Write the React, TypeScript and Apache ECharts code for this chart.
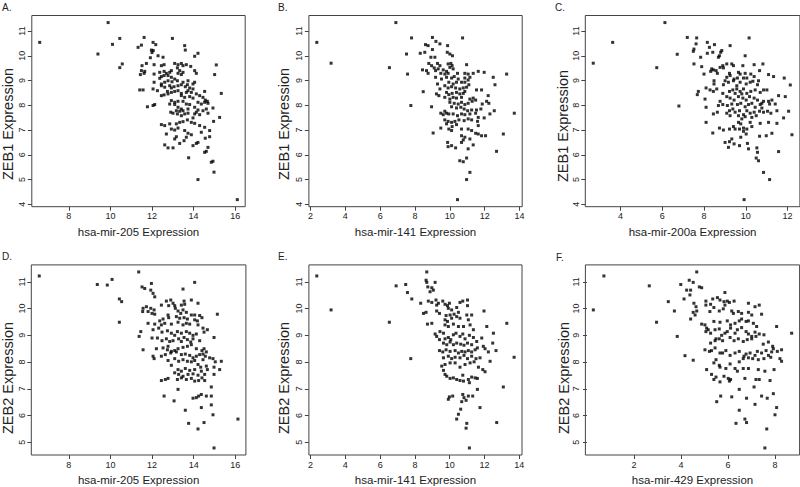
import React, { useEffect, useRef } from "react";
import * as echarts from "echarts";

// ZEB1 vs hsa-mir-205 (panel A)
const zeb1_mir205: number[][] = [
  [6.6,10.54],[9.4,10.07],[9.89,11.34],[10.1,10.46],[10.45,10.7],[10.45,9.52],[10.57,9.67],
  [11.62,10.74],[12.98,10.70],[12.05,10.54],[12.18,10.45],[11.49,10.43],[11.33,10.34],[13.57,10.41],[13.60,10.23],[11.97,10.23],[12.06,10.21],[12.0,10.13],[14.21,10.10],[12.29,10.0],[11.92,9.92],[12.53,9.94],[14.05,9.98],
  [11.73,9.69],[11.52,9.60],[12.10,9.64],[12.45,9.60],[12.58,9.64],[13.09,9.69],[13.25,9.64],[13.41,9.69],[13.49,9.60],[13.65,9.64],[13.86,9.57],[15.09,9.63],
  [11.49,9.40],[11.65,9.37],[11.44,9.24],[11.62,9.29],[12.10,9.26],[12.37,9.33],[12.58,9.37],[12.69,9.29],[12.85,9.33],[12.93,9.40],[12.77,9.20],[12.58,9.20],[13.22,9.51],[13.33,9.40],[13.49,9.33],[13.25,9.29],[13.41,9.24],[14.05,9.40],[14.13,9.29],[15.01,9.24],[12.37,9.09],[12.45,9.16],[12.93,9.13],
  [12.10,8.93],[12.45,8.86],[12.61,8.93],[12.77,8.99],[12.96,8.95],[13.09,9.06],[13.22,8.99],[13.49,8.93],[13.73,8.99],[14.05,8.93],[13.97,8.86],
  [12.45,8.79],[12.61,8.73],[12.85,8.79],[12.93,8.70],[13.06,8.75],[13.25,8.79],[13.41,8.83],[13.60,8.75],[13.70,8.83],[13.81,8.70],[13.97,8.66],
  [11.41,8.62],[11.57,8.62],[12.05,8.66],[12.26,8.59],[13.25,8.59],[13.41,8.48],[13.65,8.52],[13.73,8.59],[13.89,8.52],[12.74,8.56],[12.93,8.52],[13.09,8.56],[12.45,8.39],[12.77,8.46],[12.58,8.42],[14.53,8.56],[15.33,8.48],
  [13.41,8.39],[13.57,8.32],[13.81,8.35],[13.97,8.29],[14.13,8.46],[14.29,8.39],[14.45,8.32],[14.56,8.21],[14.66,8.16],
  [12.93,8.19],[13.09,8.12],[13.25,8.16],[13.49,8.16],[12.85,8.05],[13.09,8.03],[13.65,8.05],[13.81,8.03],[14.21,8.12],[14.37,8.05],[14.53,8.12],[14.69,8.08],
  [11.78,7.94],[12.05,7.99],[12.13,8.03],[13.25,7.92],[13.41,7.85],[13.17,7.78],[13.33,7.76],[13.49,7.78],[13.73,7.85],[14.05,7.92],[14.21,7.81],[14.45,7.78],[14.61,7.85],[14.93,7.89],
  [12.90,7.72],[13.01,7.68],[13.22,7.65],[13.41,7.58],[13.57,7.65],[13.73,7.68],[14.05,7.65],[14.13,7.72],[14.29,7.62],[14.69,7.68],[15.25,7.51],[14.96,7.35],[13.97,7.49],[13.70,7.41],[13.49,7.34],[13.33,7.31],[13.89,7.31],
  [12.45,7.22],[12.61,7.18],[12.85,7.25],[13.17,7.25],[14.05,7.27],[14.29,7.18],[14.53,7.11],[12.93,7.04],[13.09,7.0],[13.25,7.08],[13.57,6.98],[14.37,6.91],[14.77,6.98],
  [12.69,6.84],[13.73,6.87],[13.89,6.81],[13.17,6.73],[13.65,6.71],[14.77,6.73],[14.56,6.67],[13.09,6.64],[13.54,6.57],[13.33,6.46],[14.21,6.50],[14.13,6.46],[13.97,6.37],[12.61,6.40],[12.77,6.28],[13.01,6.28],[14.69,6.30],[14.61,6.14],[14.53,6.10],
  [13.76,5.88],[14.93,5.74],[14.85,5.70],[14.98,5.30],[14.21,5.0],[16.10,4.19]
];

// ZEB1 vs hsa-mir-141 (panel B)
const zeb1_mir141: number[][] = [
  [2.36,10.54],[3.18,9.70],[6.53,9.52],[6.90,11.34],
  [7.80,10.72],[9.0,10.74],[10.73,10.72],[9.20,10.58],[9.43,10.48],[8.60,10.45],[8.75,10.41],[9.87,10.41],[9.0,10.25],[8.30,10.10],[8.56,10.14],[9.85,10.14],[10.0,10.07],[10.15,10.0],[8.91,9.94],[9.14,9.94],[7.51,10.07],
  [8.79,9.69],[8.95,9.60],[9.29,9.69],[9.43,9.60],[9.90,9.67],[10.06,9.69],[10.13,9.60],[10.0,9.53],[10.19,9.47],[10.96,9.64],[9.10,9.51],[8.43,9.43],[8.66,9.40],[8.75,9.29],[9.18,9.40],[9.33,9.47],[9.62,9.43],[9.81,9.37],[9.90,9.29],[9.71,9.26],[9.48,9.29],[10.44,9.29],[10.86,9.29],[11.05,9.26],[11.34,9.29],[11.63,9.37],[11.97,9.33],[12.49,9.13],[13.26,9.26],[7.57,9.26],
  [9.18,9.13],[9.52,9.06],[9.81,9.13],[10.10,9.10],[10.25,9.16],[10.48,9.06],[10.86,9.10],[11.05,9.02],[11.15,9.13],[12.59,8.83],
  [9.94,8.93],[10.19,8.86],[10.38,8.93],[10.67,8.93],[10.86,8.93],[11.09,8.83],[9.29,8.86],[9.43,8.66],[9.71,8.79],[9.90,8.70],[10.10,8.75],[10.33,8.70],[10.57,8.66],[10.77,8.70],[10.96,8.73],[11.53,8.62],[11.82,8.62],[8.47,8.55],[9.23,8.46],[9.37,8.39],
  [9.81,8.52],[9.94,8.43],[10.13,8.48],[10.38,8.52],[10.57,8.46],[10.77,8.48],[10.86,8.56],[12.20,8.39],[9.71,8.32],[10.0,8.25],[10.19,8.32],[10.38,8.29],[10.67,8.32],[11.15,8.25],[11.34,8.29],[11.48,8.21],[8.95,7.94],[7.76,7.99],[12.11,8.16],[10.0,8.12],[10.25,8.08],[10.48,8.05],[10.67,8.12],[10.86,8.03],[11.05,8.08],[11.28,8.16],[11.86,8.05],[12.24,8.08],
  [10.10,7.94],[10.38,7.89],[10.63,7.92],[10.82,7.85],[11.02,7.78],[11.25,7.81],[11.53,7.81],[11.78,7.85],[12.55,7.78],[9.71,7.76],
  [9.48,7.68],[9.62,7.62],[9.81,7.68],[9.94,7.65],[10.19,7.65],[10.44,7.58],[10.67,7.65],[10.86,7.62],[11.15,7.65],[11.48,7.68],[11.63,7.51],[11.97,7.49],[12.30,7.65],[13.70,7.68],
  [9.71,7.41],[9.90,7.35],[10.10,7.31],[10.29,7.35],[10.52,7.41],[10.82,7.38],[11.05,7.45],[11.25,7.41],[11.59,7.35],[9.81,7.25],[10.13,7.14],[10.38,7.22],[11.63,7.18],
  [9.48,7.08],[9.94,7.04],[10.10,6.98],[10.67,7.04],[11.05,7.04],[11.25,6.98],[11.48,6.87],[11.63,6.84],[9.04,6.88],[11.82,6.77],[12.05,6.77],[13.07,6.84],[10.67,6.77],[10.86,6.71],[10.77,6.60],[11.15,6.64],
  [9.87,6.50],[10.10,6.37],[9.90,6.33],[10.33,6.28],[10.67,6.50],[11.34,6.40],[11.05,6.24],[12.68,6.14],
  [10.57,5.76],[10.77,5.72],[10.96,5.87],[11.15,5.29],[10.96,5.0],[10.44,4.19]
];

// ZEB1 vs hsa-mir-200a (panel C)
const zeb1_mir200a: number[][] = [
  [2.70,9.70],[3.63,10.54],[5.74,9.52],[6.13,11.34],[6.72,10.06],[6.80,7.97],
  [7.20,10.74],[7.65,10.72],[7.62,10.48],[8.16,10.54],[7.52,10.27],[8.50,10.45],[8.26,10.34],[10.16,10.72],[9.25,10.41],[7.49,10.18],[8.42,10.14],[8.16,10.10],[8.85,10.21],[8.80,10.14],[8.74,10.0],[8.69,9.94],[9.97,10.0],[7.84,9.94],
  [7.52,9.67],[8.90,9.60],[9.09,9.67],[9.33,9.67],[9.41,9.60],[8.93,9.51],[8.77,9.53],[8.58,9.40],[8.45,9.43],[8.37,9.47],[8.64,9.29],[8.32,9.37],[7.89,9.56],[9.86,9.60],[10.40,9.64],[10.82,9.67],[9.65,9.33],[9.73,9.26],[9.97,9.29],[10.24,9.26],[10.40,9.16],[10.66,9.40],[11.09,9.24],[11.33,9.16],[11.84,9.10],[8.0,9.26],[9.22,9.29],[9.25,9.20],[9.09,9.13],[9.44,9.06],[9.60,9.10],[9.89,9.10],[10.05,9.10],
  [8.48,8.99],[8.48,8.86],[9.01,8.99],[8.93,8.83],[9.17,8.93],[9.41,8.99],[9.57,8.79],[9.73,8.93],[10.02,8.86],[10.21,8.93],[10.34,8.97],[10.61,8.99],[10.56,8.83],[12.13,8.82],
  [8.10,8.70],[8.29,8.62],[8.45,8.56],[8.61,8.66],[7.73,8.56],[7.68,8.43],[8.90,8.48],[9.22,8.56],[9.38,8.62],[9.57,8.66],[9.49,8.48],[9.73,8.56],[9.89,8.66],[9.81,8.46],[10.05,8.48],[10.24,8.56],[10.45,8.62],[10.69,8.52],[10.85,8.62],[11.01,8.62],
  [8.05,8.25],[8.77,8.16],[9.09,8.35],[9.25,8.29],[9.44,8.21],[9.65,8.35],[9.86,8.29],[10.02,8.21],[10.18,8.35],[10.40,8.29],[10.56,8.21],[10.77,8.08],[10.85,8.16],[11.09,8.16],[11.25,8.21],[11.57,8.39],[11.89,8.35],
  [8.10,7.92],[8.69,7.99],[8.90,8.03],[9.12,7.99],[9.33,8.05],[9.60,8.03],[9.76,8.08],[9.97,7.94],[10.13,8.03],[10.29,8.08],[10.45,7.92],[10.69,8.03],[11.14,8.05],[11.41,8.05],[10.77,7.89],
  [8.45,7.65],[8.64,7.72],[9.09,7.68],[9.22,7.78],[9.38,7.85],[9.49,7.72],[9.70,7.78],[9.89,7.62],[10.05,7.78],[10.21,7.68],[10.40,7.72],[10.66,7.76],[10.85,7.72],[11.04,7.76],[11.20,7.68],[11.49,7.78],[12.05,7.76],[9.25,7.58],[9.65,7.58],[9.81,7.45],[9.97,7.54],[10.29,7.51],[10.50,7.58],[11.81,7.49],
  [8.10,7.31],[9.65,7.31],[9.76,7.25],[10.21,7.31],[10.69,7.27],[11.09,7.31],[11.49,7.27],[8.74,7.08],[8.93,7.0],[9.22,7.04],[9.41,7.14],[9.49,7.04],[9.70,7.04],[9.89,7.08],[10.05,7.04],[10.29,7.14],[9.89,6.95],[8.42,6.88],[10.02,6.84],[11.25,6.87],[12.21,6.81],[10.98,6.77],[10.66,6.75],
  [9.33,6.64],[9.76,6.71],[9.22,6.53],[9.01,6.50],[9.44,6.44],[10.08,6.46],[9.17,6.30],[9.70,6.37],[10.13,6.24],[10.53,6.28],[10.56,6.10],[11.57,6.13],[10.50,5.87],[10.61,5.76],[10.85,5.29],[11.14,5.0],[9.92,4.19]
];

// ZEB2 vs hsa-mir-205 (panel D)
const zeb2_mir205: number[][] = [
  [6.58,11.22],[9.37,10.90],[9.85,10.88],[10.08,11.09],[10.43,10.36],[10.54,10.26],[10.43,9.49],
  [11.36,11.37],[11.52,10.81],[11.65,10.75],[11.97,10.94],[11.94,10.69],[12.05,10.57],[12.13,10.44],[13.49,10.73],[14.05,10.98],
  [12.69,10.28],[12.90,10.32],[13.01,10.20],[13.54,10.28],[13.89,10.32],[14.21,10.20],[12.45,10.13],[12.80,10.11],[13.09,10.11],[13.41,10.13],[13.57,10.16],
  [11.73,10.07],[11.57,10.01],[11.55,9.89],[11.94,10.01],[12.10,9.95],[11.81,9.89],[12.0,9.82],[12.13,9.79],[13.12,10.01],[13.25,9.91],[13.38,9.82],[13.49,9.95],[13.65,9.86],[13.89,9.76],[14.05,9.76],[14.29,9.74],[15.14,9.79],
  [12.77,9.76],[12.53,9.61],[12.37,9.54],[12.80,9.66],[13.17,9.70],[13.33,9.64],[13.54,9.66],[13.70,9.61],[14.05,9.58],[14.18,9.54],[14.40,9.66],
  [11.81,9.45],[12.13,9.42],[12.45,9.39],[12.61,9.45],[12.93,9.42],[13.25,9.49],[13.49,9.39],[13.65,9.45],[13.81,9.42],[14.21,9.39],[14.66,9.21],[14.45,9.27],
  [11.46,9.14],[11.38,8.96],[12.05,9.21],[12.32,9.27],[12.48,9.12],[12.74,9.17],[12.93,9.08],[13.22,9.14],[13.09,9.0],[13.41,9.08],[13.65,9.14],[13.81,9.08],[13.97,9.0],[14.13,9.05],[14.50,9.12],[14.98,8.92],
  [12.0,8.90],[12.26,8.90],[12.48,8.80],[12.69,8.87],[12.85,8.77],[13.01,8.80],[13.28,8.87],[13.41,8.77],[13.54,8.92],[13.70,8.84],[13.86,8.75],[13.97,8.87],[14.29,8.80],
  [11.57,8.46],[12.77,8.59],[12.21,8.50],[12.53,8.53],[12.74,8.46],[12.93,8.40],[13.09,8.43],[13.25,8.50],[13.49,8.55],[13.70,8.59],[13.89,8.65],[14.13,8.50],[14.40,8.43],[14.61,8.38],[14.50,8.50],[14.45,8.30],
  [12.05,8.22],[12.10,8.13],[12.45,8.22],[12.64,8.28],[12.90,8.34],[13.17,8.38],[13.41,8.28],[13.60,8.30],[13.81,8.25],[13.97,8.16],[14.13,8.22],[14.29,8.28],[14.56,8.22],[14.77,8.16],[14.93,8.13],
  [12.77,8.06],[13.09,8.13],[13.28,8.03],[13.49,8.09],[13.70,8.03],[13.89,8.01],[14.05,8.06],[14.21,7.91],[14.45,8.09],[15.04,8.01],[15.33,8.03],[14.34,7.81],[14.61,7.85],[12.93,7.88],[14.98,7.81],[15.25,7.72],
  [13.25,7.72],[13.41,7.66],[13.60,7.76],[13.81,7.69],[14.05,7.72],[14.37,7.66],[14.66,7.72],[13.09,7.60],[13.28,7.54],[13.49,7.47],[13.73,7.54],[13.97,7.56],[14.21,7.51],[14.53,7.54],[14.98,7.54],
  [12.45,7.31],[12.64,7.35],[12.77,7.39],[13.22,7.35],[13.41,7.41],[13.65,7.35],[13.89,7.39],[14.05,7.29],[14.24,7.31],[14.40,7.41],[14.53,7.31],
  [13.25,6.98],[14.85,7.07],[12.58,6.73],[13.06,6.55],[13.97,6.65],[14.13,6.67],[14.24,6.73],[14.37,6.79],[14.61,6.73],[14.85,6.73],
  [13.60,6.20],[14.37,6.30],[14.85,6.40],[14.93,6.03],[16.13,5.87],[13.76,5.71],[14.50,5.74],[14.21,5.50],[14.98,4.79]
];

// ZEB2 vs hsa-mir-141 (panel E)
const zeb2_mir141: number[][] = [
  [2.36,11.22],[3.18,9.95],[6.53,9.49],
  [6.92,10.85],[7.47,10.90],[7.57,10.60],[7.82,10.36],[7.76,8.13],[8.68,11.37],[8.64,11.06],[8.68,10.98],[8.74,10.81],[8.97,10.78],[9.06,10.69],[9.16,10.98],[8.87,10.63],
  [8.33,10.20],[8.49,9.82],[8.64,9.86],[8.72,9.42],[8.97,9.45],[8.77,10.28],[8.97,10.23],[9.21,10.32],[9.25,10.13],[9.35,10.20],[9.25,9.91],[9.41,9.82],[9.60,10.28],[9.73,10.16],[9.87,10.11],[9.98,10.20],[9.92,10.01],[10.11,9.95],[10.40,10.04],[10.75,10.28],[11.02,10.32],[10.59,10.23],[11.02,10.11],
  [10.25,9.79],[10.50,9.86],[10.02,9.76],[9.79,9.74],[9.73,9.58],[9.87,9.52],[10.11,9.64],[10.40,9.70],[10.59,9.64],[10.98,9.76],[11.26,9.76],[11.07,9.58],[11.97,9.91],[13.28,9.45],
  [9.73,9.39],[9.92,9.33],[10.21,9.42],[10.50,9.33],[10.79,9.33],[11.17,9.39],[11.36,9.21],[12.13,9.33],[12.51,9.08],
  [9.16,9.05],[9.25,8.96],[9.44,9.14],[9.64,9.08],[9.41,8.84],[9.73,8.87],[9.92,8.92],[10.06,8.84],[10.21,9.02],[10.36,9.08],[10.59,8.96],[10.75,9.05],[10.88,8.87],[11.13,9.0],[11.36,8.92],[11.84,8.90],[12.47,8.71],
  [9.64,8.71],[9.83,8.65],[10.02,8.75],[10.21,8.65],[10.40,8.71],[10.63,8.67],[10.82,8.63],[11.02,8.71],[11.26,8.65],[11.55,8.77],[11.93,8.59],
  [9.41,8.43],[9.60,8.38],[9.79,8.46],[10.02,8.40],[10.31,8.43],[10.50,8.34],[10.69,8.40],[10.88,8.38],[11.07,8.43],[11.26,8.38],[11.46,8.46],[11.59,8.53],[12.03,8.50],[12.22,8.38],[12.32,8.03],[12.66,8.43],[13.70,8.18],
  [9.64,8.16],[9.92,8.22],[10.11,8.13],[10.31,8.18],[10.59,8.16],[10.82,8.25],[11.02,8.13],[11.26,8.22],[11.51,8.13],[11.74,8.16],
  [9.54,7.85],[9.73,7.91],[10.02,7.97],[10.31,7.97],[10.59,7.81],[10.88,7.91],[11.17,7.97],[11.40,8.01],[11.65,7.81],[11.90,7.72],[12.03,7.64],
  [9.64,7.69],[9.73,7.54],[9.83,7.47],[10.02,7.39],[10.21,7.41],[10.40,7.35],[10.59,7.31],[10.79,7.29],[11.07,7.35],[11.26,7.44],[11.46,7.41],[11.59,7.39],[11.13,7.23],[10.75,7.51],
  [11.59,6.98],[13.08,7.07],[9.98,6.70],[9.92,6.61],[10.17,6.73],[10.75,6.79],[10.82,6.67],[11.07,6.73],[11.32,6.73],[10.69,6.52],[10.94,6.57],
  [11.74,6.30],[10.63,6.24],[10.50,6.05],[10.40,5.87],[12.70,5.74],[10.98,5.71],[10.94,5.53],[11.13,4.79]
];

// ZEB2 vs hsa-mir-429 (panel F)
const zeb2_mir429: number[][] = [
  [0.27,9.95],[0.72,11.22],
  [2.65,10.85],[2.96,9.49],[3.84,8.96],[4.17,8.24],[4.52,8.07],[3.46,10.26],[3.72,9.91],
  [4.67,11.37],[4.35,11.06],[4.52,10.98],[3.99,10.90],[4.13,10.36],[4.24,10.69],[4.41,10.69],[4.38,10.51],[4.78,10.81],[4.88,10.78],[4.55,10.20],[4.64,10.07],[4.52,9.86],[4.60,9.76],[4.41,9.61],[4.67,9.91],
  [5.87,10.60],[5.06,10.28],[5.35,10.36],[5.55,10.41],[5.66,10.32],[5.83,10.26],[5.97,10.28],[6.06,10.23],[6.26,10.28],[6.87,10.20],[7.15,10.07],[7.33,10.13],[5.87,10.13],[5.06,10.13],[5.26,10.16],[5.40,10.04],
  [5.63,9.91],[5.80,9.99],[6.16,9.91],[6.23,9.82],[6.44,9.89],[6.58,9.82],[6.87,9.86],[7.01,9.76],[7.43,9.79],[5.23,9.89],
  [4.88,9.42],[5.02,9.39],[5.09,9.27],[5.16,9.21],[5.26,9.08],[5.06,9.14],[5.40,9.52],[5.66,9.49],[5.97,9.54],[6.11,9.39],[6.30,9.45],[6.48,9.54],[6.58,9.61],[6.77,9.52],[6.87,9.54],[7.08,9.45],[7.22,9.33],[8.07,9.33],[8.71,9.08],
  [5.45,9.21],[5.63,9.24],[5.49,8.87],[5.73,9.0],[5.87,9.08],[5.97,9.14],[6.11,9.27],[6.30,9.08],[6.40,9.21],[6.58,9.29],[6.77,9.14],[6.87,9.05],[7.01,8.96],[7.15,9.12],[7.33,9.05],[7.53,9.02],
  [5.26,8.71],[5.45,8.80],[5.63,8.87],[5.77,8.80],[6.09,8.92],[6.26,8.80],[6.44,8.87],[6.65,8.77],[6.82,8.84],[7.01,8.87],[7.19,8.96],[7.50,8.67],[7.72,8.75],[7.90,8.59],
  [5.02,8.46],[5.21,8.40],[5.30,8.43],[5.45,8.53],[5.66,8.34],[5.77,8.34],[5.91,8.43],[6.09,8.25],[6.30,8.34],[6.48,8.40],[6.68,8.22],[6.77,8.30],[6.94,8.34],[7.15,8.25],[7.25,8.40],[7.43,8.34],[7.62,8.43],[7.86,8.38],[7.93,8.50],[8.10,8.40],[8.28,8.46],[7.72,8.25],
  [5.49,8.09],[5.40,7.97],[5.63,7.88],[5.66,7.81],[5.91,7.76],[6.09,7.93],[6.30,7.76],[6.48,8.01],[6.65,8.13],[6.87,8.16],[7.05,8.13],[7.29,8.09],[7.53,8.13],[7.82,8.18],[8.21,8.13],[8.28,8.03],
  [5.09,7.72],[5.30,7.54],[5.49,7.44],[5.83,7.47],[6.01,7.39],[6.11,7.35],[6.40,7.66],[6.65,7.76],[6.87,7.76],[7.29,7.72],[7.57,7.66],[7.96,7.72],[5.40,7.35],[5.66,7.26],[6.06,7.29],[6.72,7.39],[7.19,7.35],[7.33,7.35],[7.79,7.31],
  [6.48,6.98],[7.11,7.07],[7.93,6.82],[5.69,6.73],[6.16,6.70],[6.79,6.65],[7.43,6.73],[7.67,6.65],[5.52,6.52],[7.15,6.42],[8.07,6.30],[8.0,6.03],[6.48,6.20],
  [6.34,5.71],[6.79,5.74],[6.72,5.87],[7.65,5.50],[7.57,4.79]
];

const ticksMir205 = [8, 10, 12, 14, 16];
const ticksMir141 = [2, 4, 6, 8, 10, 12, 14];
const ticksMir200a = [4, 6, 8, 10, 12];
const ticksMir429 = [2, 4, 6, 8];
const ticksZeb1 = [4, 5, 6, 7, 8, 9, 10, 11];
const ticksZeb2 = [5, 6, 7, 8, 9, 10, 11];

const panelLetters = ["A.", "B.", "C.", "D.", "E.", "F."];
const xTitles = [
  "hsa-mir-205 Expression",
  "hsa-mir-141 Expression",
  "hsa-mir-200a Expression",
  "hsa-mir-205 Expression",
  "hsa-mir-141 Expression",
  "hsa-mir-429 Expression",
];
const yTitles = [
  "ZEB1 Expression",
  "ZEB1 Expression",
  "ZEB1 Expression",
  "ZEB2 Expression",
  "ZEB2 Expression",
  "ZEB2 Expression",
];

const panelData = [zeb1_mir205, zeb1_mir141, zeb1_mir200a, zeb2_mir205, zeb2_mir141, zeb2_mir429];
const panelXTicks = [ticksMir205, ticksMir141, ticksMir200a, ticksMir205, ticksMir141, ticksMir429];
const panelYTicks = [ticksZeb1, ticksZeb1, ticksZeb1, ticksZeb2, ticksZeb2, ticksZeb2];

// layout (pixels)
const boxes = [
  { left: 31.8, top: 15.5, width: 213.4, height: 191.2 },
  { left: 308.9, top: 15.5, width: 213.3, height: 191.2 },
  { left: 585.3, top: 15.5, width: 214.6, height: 191.2 },
  { left: 31.3, top: 264.9, width: 214.6, height: 191.0 },
  { left: 308.9, top: 264.9, width: 213.1, height: 191.0 },
  { left: 585.4, top: 264.9, width: 214.2, height: 191.0 },
];
const letterPos = [
  [2, 2], [278, 2], [555, 2], [2, 251], [278, 251], [556, 252],
];
// centres of the rotated y-axis titles
const yTitlePos = [
  [7.5, 124], [284, 124], [562.5, 126], [7.5, 378], [284, 378], [563.5, 378],
];

const FONT = "'Liberation Sans', Arial, Helvetica, sans-serif";
const TEXT = "#222";
const LINE = "#444";

// R's default axis extension: 4% on each side
function rRange(vals: number[]): [number, number] {
  const mn = Math.min(...vals);
  const mx = Math.max(...vals);
  const d = (mx - mn) * 0.04;
  return [mn - d, mx + d];
}

export default function App() {
  const ref = useRef<HTMLDivElement>(null);
  useEffect(() => {
    document.body.style.margin = "0";
    if (!ref.current) return;
    const chart = echarts.init(ref.current, null, { renderer: "svg" });

    const grid = boxes.map((b) => ({
      ...b,
      show: true,
      borderColor: LINE,
      borderWidth: 1,
      backgroundColor: "transparent",
      containLabel: false,
    }));

    const xAxis = panelData.map((d, i) => {
      const [mn, mx] = rRange(d.map((p) => p[0]));
      return {
        type: "value",
        gridIndex: i,
        min: mn,
        max: mx,
        axisLine: { show: false },
        splitLine: { show: false },
        axisTick: {
          show: true,
          length: 4,
          lineStyle: { color: LINE, width: 1 },
          customValues: panelXTicks[i],
        },
        axisLabel: {
          customValues: panelXTicks[i],
          fontSize: 9,
          color: TEXT,
          margin: 5,
          fontFamily: FONT,
        },
        name: xTitles[i],
        nameLocation: "middle",
        nameGap: 19,
        nameTextStyle: { fontSize: 11.5, color: TEXT, fontFamily: FONT },
      };
    });

    const yAxis = panelData.map((d, i) => {
      const [mn, mx] = rRange(d.map((p) => p[1]));
      return {
        type: "value",
        gridIndex: i,
        min: mn,
        max: mx,
        axisLine: { show: false },
        splitLine: { show: false },
        axisTick: {
          show: true,
          length: 4,
          lineStyle: { color: LINE, width: 1 },
          customValues: panelYTicks[i],
        },
        axisLabel: {
          customValues: panelYTicks[i],
          rotate: 90,
          fontSize: 9,
          color: TEXT,
          margin: 5,
          fontFamily: FONT,
        },
      };
    });

    const series = panelData.map((d, i) => ({
      type: "scatter",
      xAxisIndex: i,
      yAxisIndex: i,
      data: d,
      symbol: "rect",
      symbolSize: 3,
      itemStyle: { color: "#000" },
      silent: true,
    }));

    const letters = panelLetters.map((t, i) => ({
      type: "text",
      left: letterPos[i][0],
      top: letterPos[i][1],
      style: { text: t, fontSize: 10, fill: TEXT, fontFamily: FONT },
    }));

    const yTitleTexts = yTitles.map((t, i) => ({
      type: "text",
      x: yTitlePos[i][0],
      y: yTitlePos[i][1],
      rotation: Math.PI / 2,
      style: {
        text: t,
        fontSize: 14.5,
        fill: TEXT,
        fontFamily: FONT,
        align: "center",
        verticalAlign: "middle",
      },
    }));

    chart.setOption({
      animation: false,
      backgroundColor: "#fff",
      grid,
      xAxis,
      yAxis,
      series,
      graphic: [...letters, ...yTitleTexts],
    } as any);

    return () => chart.dispose();
  }, []);

  return <div ref={ref} style={{ width: 800, height: 487 }} />;
}
